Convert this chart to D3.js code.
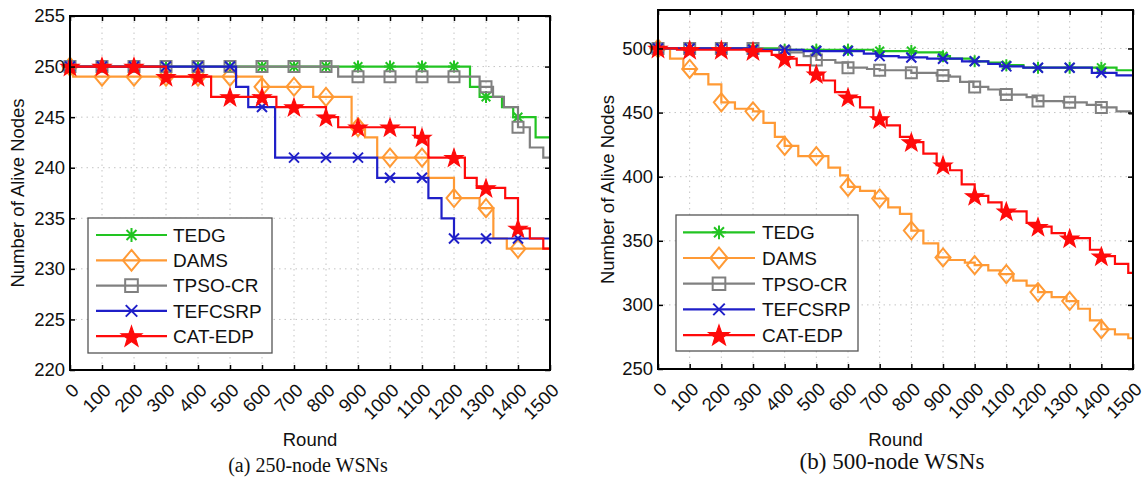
<!DOCTYPE html>
<html>
<head>
<meta charset="utf-8">
<script src="https://cdn.jsdelivr.net/npm/d3@7"></script>
<style>
  body { margin: 0; background: #fff; }
  svg text { font-family: "Liberation Sans", Arial, sans-serif; fill: #111; }
</style>
</head>
<body>
<svg id="fig" width="1148" height="479"></svg>
<script>
// ---- shared labels / ticks ----
const seriesNames = ["TEDG", "DAMS", "TPSO-CR", "TEFCSRP", "CAT-EDP"];
const roundTicks = d3.range(0, 1501, 100);
const markerRounds = d3.range(0, 1401, 100);
const yTicks250 = [220, 225, 230, 235, 240, 245, 250, 255];
const yTicks500 = [250, 300, 350, 400, 450, 500];

// ---- (a) 250-node network: [round, alive nodes] at each change ----
const tedg250    = [[0,250],[1250,248],[1280,247],[1350,246],[1385,245],[1455,243]];
const dams250    = [[0,250],[10,249],[600,248],[760,247],[880,244],[922,243],[960,241],[1120,239],[1200,237],[1280,236],[1323,233],[1365,232]];
const tpso250    = [[0,250],[838,249],[1280,248],[1322,247],[1356,246],[1400,244],[1437,242],[1479,241]];
const tefcsrp250 = [[0,250],[519,248],[557,246],[641,241],[960,239],[1120,237],[1161,235],[1200,233]];
const cat250     = [[0,250],[300,249],[441,247],[645,246],[800,245],[838,244],[1078,243],[1120,241],[1234,239],[1271,238],[1360,237],[1400,234],[1437,233],[1479,232]];

// ---- (b) 500-node network ----
const tedg500    = [[0,500],[380,499],[680,498],[806,497],[900,494],[922,492],[996,490],[1043,489],[1080,487],[1154,485],[1448,483]];
const dams500    = [[0,500],[38,492],[80,484],[117,480],[159,472],[200,458],[243,453],[300,451],[333,442],[369,431],[400,424],[443,416],[538,407],[575,401],[600,392],[638,389],[685,383],[727,376],[764,371],[800,358],[838,348],[885,337],[922,335],[969,333],[1000,331],[1043,327],[1080,324],[1122,319],[1164,315],[1200,310],[1243,306],[1290,303],[1327,297],[1364,288],[1400,281],[1443,277],[1485,274]];
const tpso500    = [[0,500],[330,499],[400,497],[460,494],[500,491],[560,489],[600,485],[660,484],[700,483],[800,481],[880,479],[922,478],[954,474],[996,470],[1043,468],[1080,464],[1164,462],[1196,459],[1280,458],[1354,456],[1400,454],[1448,451],[1490,449]];
const tefcsrp500 = [[0,500],[300,499],[460,498],[650,496],[690,494],[760,493],[850,492],[960,490],[1043,488],[1080,486],[1154,485],[1370,481],[1448,479]];
const cat500     = [[0,500],[60,499],[280,498],[359,495],[396,492],[438,487],[480,480],[522,475],[559,466],[600,462],[638,454],[680,445],[722,440],[764,431],[800,427],[838,418],[880,409],[922,405],[959,394],[1000,385],[1043,380],[1085,373],[1164,364],[1200,361],[1243,356],[1285,352],[1364,343],[1400,338],[1443,332],[1485,325]];

// ---- styling ----
const seriesColors = ["#22c422", "#ff9a35", "#808080", "#1f1fc8", "#ff0a0a"];
const seriesShapes = ["asterisk", "diamond", "square", "cross", "star"];

function markerPath(shape, s) {
  const p = d3.path();
  if (shape === "asterisk") {
    const r = 6 * s, d = r * 0.72;
    p.moveTo(-r, 0); p.lineTo(r, 0);
    p.moveTo(0, -r); p.lineTo(0, r);
    p.moveTo(-d, -d); p.lineTo(d, d);
    p.moveTo(-d, d); p.lineTo(d, -d);
  } else if (shape === "diamond") {
    const w = 7.5 * s, h = 9 * s;
    p.moveTo(0, -h); p.lineTo(w, 0); p.lineTo(0, h); p.lineTo(-w, 0); p.closePath();
  } else if (shape === "square") {
    const a = 5.5 * s;
    p.rect(-a, -a, 2 * a, 2 * a);
  } else if (shape === "cross") {
    const r = 5 * s;
    p.moveTo(-r, -r); p.lineTo(r, r);
    p.moveTo(-r, r); p.lineTo(r, -r);
  } else if (shape === "star") {
    const R = 9.5 * s, ri = R * 0.4;
    for (let i = 0; i < 10; i++) {
      const rr = i % 2 === 0 ? R : ri;
      const a = -Math.PI / 2 + i * Math.PI / 5;
      const x = rr * Math.cos(a), y = rr * Math.sin(a) + 0.8 * s;
      if (i === 0) p.moveTo(x, y); else p.lineTo(x, y);
    }
    p.closePath();
  }
  return p.toString();
}

function drawMarker(g, shape, color, x, y, s) {
  const filled = shape === "star";
  g.append("path")
    .attr("d", markerPath(shape, s))
    .attr("transform", `translate(${x},${y})`)
    .attr("fill", filled ? color : "none")
    .attr("stroke", color)
    .attr("stroke-width", filled ? 1.2 : 2)
    .attr("stroke-linejoin", "miter");
}

// value of a step series at a given round
function valueAt(series, r) {
  let v = series[0][1];
  for (const [x, y] of series) { if (x <= r) v = y; else break; }
  return v;
}

const svg = d3.select("#fig");

const panels = [
  {
    box: { x0: 70, x1: 550, y0: 16, y1: 370 },
    yDomain: [220, 255], yTicks: yTicks250,
    series: [tedg250, dams250, tpso250, tefcsrp250, cat250],
    legend: { x: 88, y: 218, w: 184, h: 135, row0: 235, step: 25.3, l0: 96, l1: 167, tx: 173 },
    caption: "(a) 250-node WSNs", capX: 308, capY: 472, capSize: 20,
    yLabelX: 18
  },
  {
    box: { x0: 658, x1: 1133, y0: 10, y1: 369 },
    yDomain: [250, 530], yTicks: yTicks500,
    series: [tedg500, dams500, tpso500, tefcsrp500, cat500],
    legend: { x: 676, y: 215, w: 182, h: 136, row0: 232.3, step: 25.7, l0: 683, l1: 755, tx: 762 },
    caption: "(b) 500-node WSNs", capX: 892, capY: 469, capSize: 23,
    yLabelX: 608
  }
];

panels.forEach(pn => {
  const b = pn.box;
  const x = d3.scaleLinear().domain([0, 1500]).range([b.x0, b.x1]);
  const y = d3.scaleLinear().domain(pn.yDomain).range([b.y1, b.y0]);
  const g = svg.append("g");

  // dotted grid
  const grid = g.append("g").attr("stroke", "#c4c4c4").attr("stroke-width", 1)
    .attr("stroke-dasharray", "1.5,4");
  roundTicks.slice(1, -1).forEach(t => {
    grid.append("line").attr("x1", x(t)).attr("x2", x(t)).attr("y1", b.y0).attr("y2", b.y1);
  });
  pn.yTicks.forEach(t => {
    if (y(t) > b.y0 + 1 && y(t) < b.y1 - 1)
      grid.append("line").attr("x1", b.x0).attr("x2", b.x1).attr("y1", y(t)).attr("y2", y(t));
  });

  // series: step line then markers
  const line = d3.line().curve(d3.curveStepAfter).x(d => x(d[0])).y(d => y(d[1]));
  pn.series.forEach((s, i) => {
    const pts = s.concat([[1500, s[s.length - 1][1]]]);
    g.append("path").attr("d", line(pts)).attr("fill", "none")
      .attr("stroke", seriesColors[i]).attr("stroke-width", 2.2);
    const mg = g.append("g");
    markerRounds.forEach(r => drawMarker(mg, seriesShapes[i], seriesColors[i], x(r), y(valueAt(s, r)), 1));
  });

  // axes with inward ticks on all four sides
  const ax = (a) => a.tickSizeOuter(0);
  const bottom = g.append("g").attr("transform", `translate(0,${b.y1})`)
    .call(ax(d3.axisBottom(x).tickValues(roundTicks).tickSizeInner(-5).tickFormat(d3.format("d"))));
  g.append("g").attr("transform", `translate(0,${b.y0})`)
    .call(ax(d3.axisTop(x).tickValues(roundTicks).tickSizeInner(-5).tickFormat("")));
  g.append("g").attr("transform", `translate(${b.x0},0)`)
    .call(ax(d3.axisLeft(y).tickValues(pn.yTicks).tickSizeInner(-5).tickPadding(5)));
  g.append("g").attr("transform", `translate(${b.x1},0)`)
    .call(ax(d3.axisRight(y).tickValues(pn.yTicks).tickSizeInner(-5).tickFormat("")));
  g.selectAll(".domain").remove();
  g.selectAll(".tick line").attr("stroke", "#000").attr("stroke-width", 1.5);
  g.selectAll(".tick text").attr("font-size", 18.5).attr("font-family", '"Liberation Sans", Arial, sans-serif').attr("fill", "#111");
  bottom.selectAll(".tick text")
    .attr("x", null).attr("y", null).attr("dy", "0.35em")
    .attr("text-anchor", "end")
    .attr("transform", "translate(5,17) rotate(-45)");

  // axes box
  g.append("rect").attr("x", b.x0).attr("y", b.y0).attr("width", b.x1 - b.x0).attr("height", b.y1 - b.y0)
    .attr("fill", "none").attr("stroke", "#000").attr("stroke-width", 2);

  // legend
  const L = pn.legend;
  const lg = g.append("g");
  lg.append("rect").attr("x", L.x).attr("y", L.y).attr("width", L.w).attr("height", L.h)
    .attr("fill", "#fff").attr("stroke", "#555").attr("stroke-width", 1.3);
  seriesNames.forEach((name, i) => {
    const yy = L.row0 + i * L.step;
    lg.append("line").attr("x1", L.l0).attr("x2", L.l1).attr("y1", yy).attr("y2", yy)
      .attr("stroke", seriesColors[i]).attr("stroke-width", 2.2);
    drawMarker(lg, seriesShapes[i], seriesColors[i], (L.l0 + L.l1) / 2, yy, 1.15);
    lg.append("text").attr("x", L.tx).attr("y", yy).attr("dy", "0.36em")
      .attr("font-size", 19).text(name);
  });

  // axis titles
  g.append("text").attr("x", (b.x0 + b.x1) / 2).attr("y", 446).attr("text-anchor", "middle")
    .attr("font-size", 18.5).text("Round");
  g.append("text").attr("transform", `translate(${pn.yLabelX},${(b.y0 + b.y1) / 2}) rotate(-90)`)
    .attr("text-anchor", "middle").attr("dy", "0.35em").attr("font-size", 18.5).text("Number of Alive Nodes");

  // caption
  g.append("text").attr("x", pn.capX).attr("y", pn.capY).attr("text-anchor", "middle")
    .style("font-family", '"Liberation Serif", "Times New Roman", serif')
    .attr("font-size", pn.capSize).text(pn.caption);
});
</script>
</body>
</html>
